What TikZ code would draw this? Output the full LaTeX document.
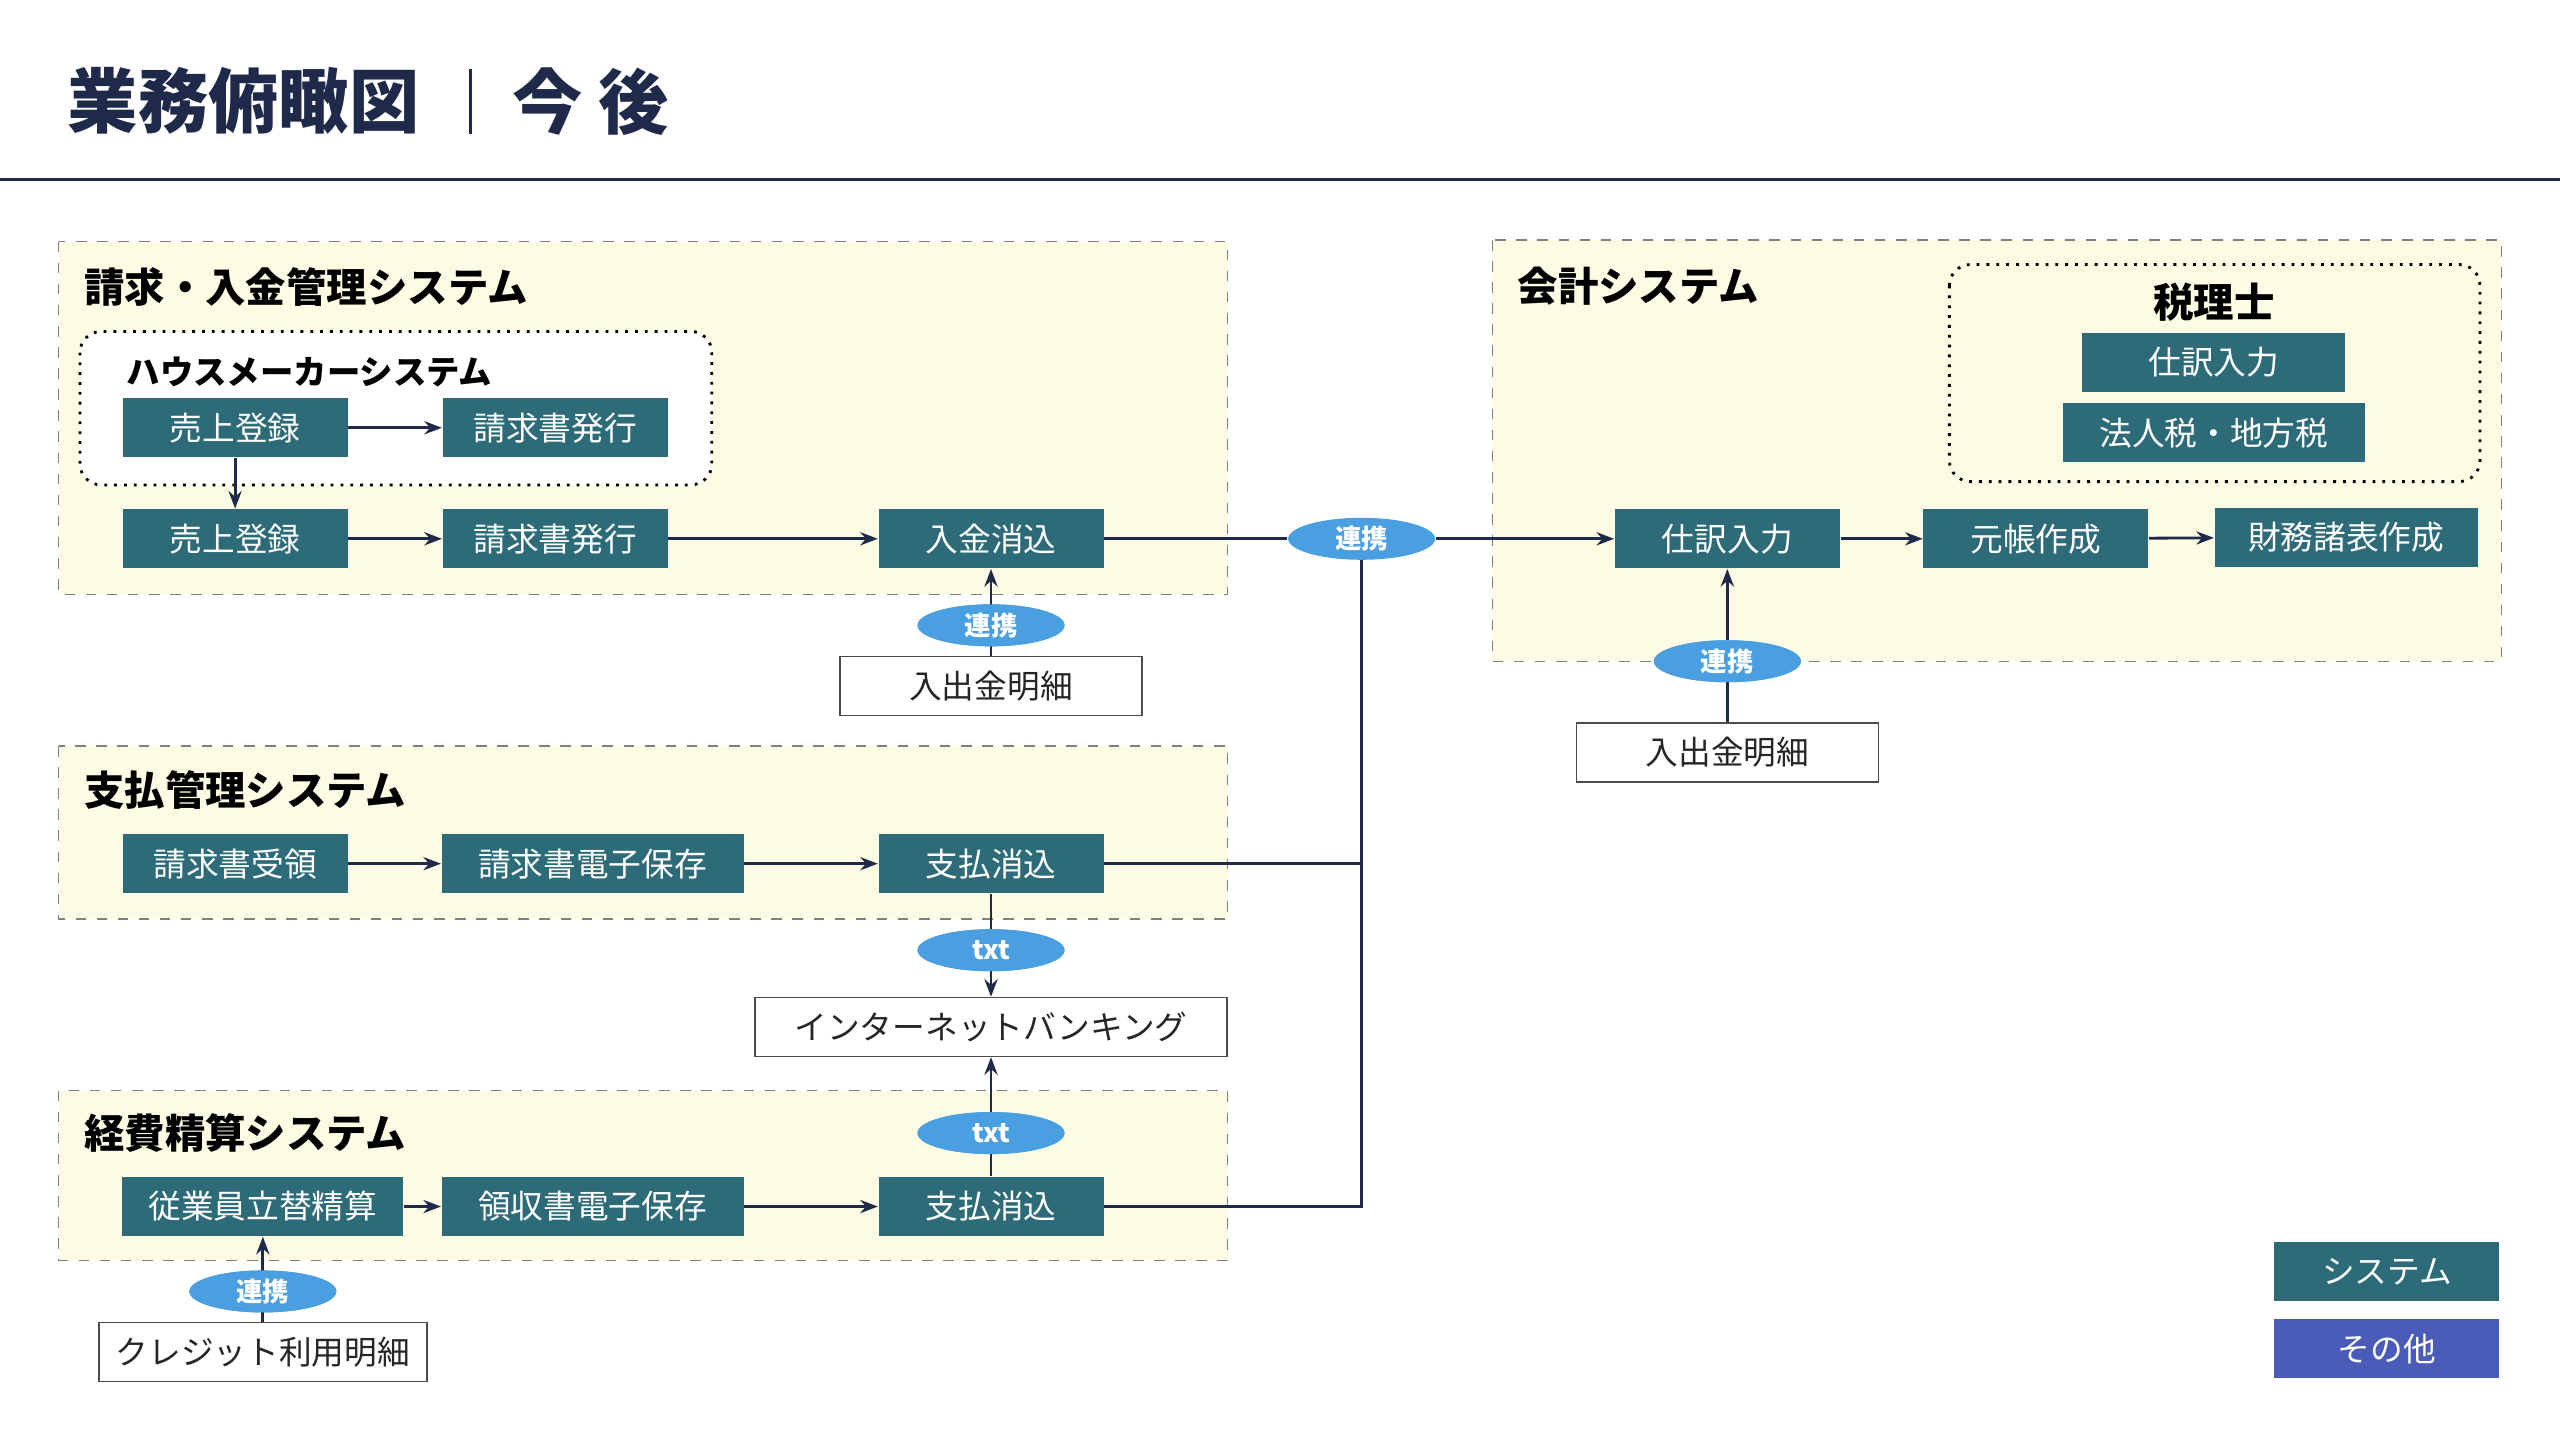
\documentclass[tikz,border=0pt]{standalone}
\usepackage{fontspec}
\setmainfont{Noto Sans CJK JP}
\usetikzlibrary{positioning, shapes.geometric, arrows.meta}
\definecolor{sysc}{HTML}{2E6B78}
\definecolor{ovalc}{HTML}{4A9FE0}
\definecolor{panelc}{HTML}{FDFBE3}
\definecolor{navy}{HTML}{1F2A4A}
\definecolor{otherc}{HTML}{4A5BB8}
\tikzset{
  sys/.style={fill=sysc, text=white, minimum height=0.59cm, inner sep=0pt, font=\fontsize{9.3}{10}\selectfont},
  ext/.style={draw=black!70, fill=white, text=black!85, minimum height=0.59cm, inner sep=0pt, font=\fontsize{9.3}{10}\selectfont},
  link/.style={ellipse, fill=ovalc, text=white, minimum width=1.47cm, minimum height=0.42cm, inner sep=0pt, font=\bfseries\fontsize{7.5}{8}\selectfont},
  panel/.style={draw=black!50, dashed, fill=panelc},
  ptitle/.style={anchor=west, font=\bfseries\fontsize{11.5}{12}\selectfont},
  arrow/.style={draw=navy, thick, -{Stealth[length=5pt]}},
  line/.style={draw=navy, thick}
}
\begin{document}
\begin{tikzpicture}[x=0.01633cm, y=-0.01633cm]
  \useasboundingbox (0,0) rectangle (1568,880);
  \fill[white] (0,0) rectangle (1568,880);
  % title
  \node (title) [anchor=west, text=navy, font=\bfseries\fontsize{20}{22}\selectfont] at (34,62) {業務俯瞰図};
  \draw[navy, thick] (288,42) -- (288,82);
  \node (title2) [anchor=west, text=navy, font=\bfseries\fontsize{20}{22}\selectfont] at (306,62) {今 後};
  \draw[navy, thick] (0,110) -- (1568,110);

  % panels
  \draw[panel] (36,148) rectangle (752,364);
  \draw[panel] (914,147) rectangle (1532,405);
  \draw[panel] (36,457) rectangle (752,563);
  \draw[panel] (36,668) rectangle (752,772);
  \node (p1) [ptitle] at (44,176) {請求・入金管理システム};
  \node (p2) [ptitle] at (922,175) {会計システム};
  \node (p3) [ptitle] at (44,484) {支払管理システム};
  \node (p4) [ptitle] at (44,694) {経費精算システム};
  \draw[black, thick, dotted, rounded corners=6pt, fill=white] (49,203) rectangle (436,297);
  \node (hm) [anchor=west, font=\bfseries\fontsize{9.5}{10}\selectfont] at (70,228) {ハウスメーカーシステム};
  \draw[black, thick, dotted, rounded corners=6pt] (1194,162) rectangle (1519,295);
  \node (zei) [font=\bfseries\fontsize{11.5}{12}\selectfont] at (1356,185) {税理士};

  % nodes
  \node (hUri) [sys, minimum width=2.25cm] at (144,262) {売上登録};
  \node (hSei) [sys, minimum width=2.25cm] at (340,262) {請求書発行};
  \node (uri) [sys, minimum width=2.25cm] at (144,330) {売上登録};
  \node (sei) [sys, minimum width=2.25cm] at (340,330) {請求書発行};
  \node (nyu) [sys, minimum width=2.25cm] at (607,330) {入金消込};
  \node (lnk1) [link] at (607,383) {連携};
  \node (bank1) [ext, minimum width=3.02cm] at (607,420) {入出金明細};
  \node (lnkM) [link] at (834,330) {連携};

  \node (zShi) [sys, minimum width=2.63cm] at (1356,222) {仕訳入力};
  \node (zHou) [sys, minimum width=3.02cm] at (1356,265) {法人税・地方税};
  \node (shi) [sys, minimum width=2.25cm] at (1058,330) {仕訳入力};
  \node (moto) [sys, minimum width=2.25cm] at (1247,330) {元帳作成};
  \node (zaimu) [sys, minimum width=2.63cm] at (1437,329) {財務諸表作成};
  \node (lnk2) [link] at (1058,405) {連携};
  \node (bank2) [ext, minimum width=3.02cm] at (1058,461) {入出金明細};

  \node (juryo) [sys, minimum width=2.25cm] at (144,529) {請求書受領};
  \node (hozon1) [sys, minimum width=3.02cm] at (363,529) {請求書電子保存};
  \node (shiH) [sys, minimum width=2.25cm] at (607,529) {支払消込};
  \node (txt1) [link] at (607,582) {txt};
  \node (ib) [ext, minimum width=4.72cm] at (607,629) {インターネットバンキング};
  \node (txt2) [link] at (607,694) {txt};

  \node (tate) [sys, minimum width=2.81cm] at (161,739) {従業員立替精算};
  \node (hozon2) [sys, minimum width=3.02cm] at (363,739) {領収書電子保存};
  \node (shiK) [sys, minimum width=2.25cm] at (607,739) {支払消込};
  \node (lnk3) [link] at (161,791) {連携};
  \node (card) [ext, minimum width=3.28cm] at (161,828) {クレジット利用明細};

  \node (legS) [sys, minimum width=2.25cm] at (1462,779) {システム};
  \node (legO) [sys, fill=otherc, minimum width=2.25cm] at (1462,826) {その他};

  % connectors
  \draw[arrow] (hUri) -- (hSei);
  \draw[arrow] (hUri) -- (uri);
  \draw[arrow] (uri) -- (sei);
  \draw[arrow] (sei) -- (nyu);
  \draw[line] (nyu) -- (lnkM);
  \draw[arrow] (lnkM) -- (shi);
  \draw[arrow] (shi) -- (moto);
  \draw[arrow] (moto) -- (zaimu);
  \draw[line] (shiH.east) -| (lnkM.south);
  \draw[line] (shiK.east) -| (lnkM.south);
  \draw[arrow] (juryo) -- (hozon1);
  \draw[arrow] (hozon1) -- (shiH);
  \draw[arrow] (tate) -- (hozon2);
  \draw[arrow] (hozon2) -- (shiK);
  \draw[arrow] (bank1) -- (nyu);
  \draw[arrow] (bank2) -- (shi);
  \draw[arrow] (shiH) -- (ib);
  \draw[arrow] (shiK) -- (ib);
  \draw[arrow] (card) -- (tate);
  \node at (lnk1) [link] {連携};
  \node at (lnk2) [link] {連携};
  \node at (lnk3) [link] {連携};
  \node at (txt1) [link] {txt};
  \node at (txt2) [link] {txt};
\end{tikzpicture}
\end{document}
